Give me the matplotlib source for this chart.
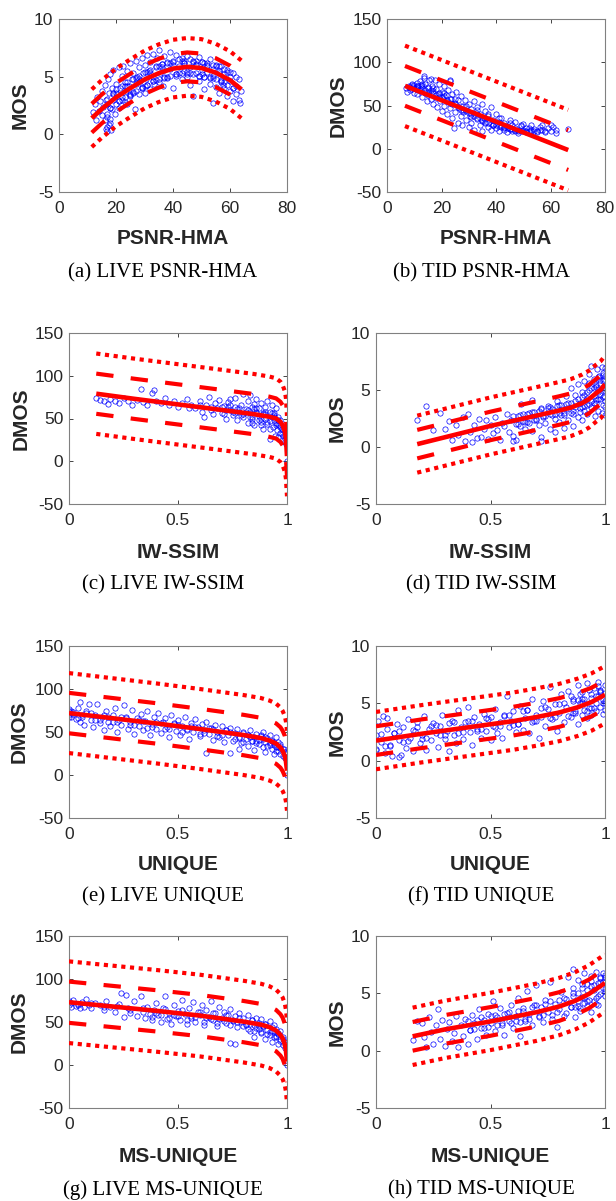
import matplotlib
matplotlib.use("Agg")
import matplotlib.pyplot as plt

plt.rcParams['lines.scale_dashes'] = False

W, H = 616, 1201

# ---------------- data ----------------
# (a) LIVE PSNR-HMA
a_x = [12,12.5,13,13.5,14,14.5,15,15,15.5,16,16,16.5,16.5,17,17,17,17.2,17.5,17.5,18,18,18.5,18.5,19,19,19.5,20,20,20.5,21,21,21.5,22,22,22.5,23,23,23.5,24,24,24.5,25,25,25.5,26,26,26.5,27,27,27.5,28,28,28.5,29,29,29.5,30,30,30.5,31,31,31.5,32,32,33,33,33.5,34,34.5,35,35,35.5,36,36.5,37,37,38,38,39,39,40,40,41,41,42,43,43,44,44,45,45,46,46,47,47,48,48,49,49,50,50,51,51,52,52,53,53,54,54,55,55,56,56,57,57,58,58,59,59,60,60,61,61,62,62,63,63,64,63.5,54,57.5,16.8,17.8,18.2,16.9]
a_y = [1.9,2.6,1.2,3.2,2.0,2.9,1.7,3.8,2.4,4.3,1.2,0.5,3.0,0.3,1.8,2.6,4.8,0.8,3.6,1.3,5.2,2.2,4.0,3.0,5.6,1.8,2.6,4.4,3.5,5.8,2.3,4.0,3.2,5.1,5.9,2.8,4.5,3.8,5.5,2.6,4.2,6.2,3.3,4.8,5.3,3.7,2.2,4.4,6.4,5.0,3.5,5.8,4.6,6.6,4.0,5.3,3.6,6.0,4.8,6.9,4.3,5.5,3.9,6.3,5.0,7.0,4.4,5.8,6.6,4.5,7.3,5.3,6.1,4.2,6.8,5.6,4.9,6.3,7.1,5.7,4.0,6.4,5.2,6.9,5.9,6.6,4.8,5.5,6.2,5.0,6.8,5.8,4.3,6.4,3.3,5.3,6.0,6.7,4.6,5.6,6.3,5.0,3.9,6.0,5.4,4.4,6.5,5.7,5.1,4.1,6.0,5.3,3.6,4.7,5.9,4.0,5.2,3.3,5.6,4.6,3.8,5.3,2.9,4.2,3.5,4.8,3.0,3.8,2.7,2.7,4.3,0.6,1.0,0.4,1.5]
a_x_core = [17,18,19,20,21,22,23,24,25,26,27,28,29,30,31,32,33,34,35,36,37,38,39,40,41,42,43,44,45,46,47,48,49,50,51,52,53,54,55,56,57,58,59,60,61,62,
            18,20,22,24,26,28,30,32,34,36,38,40,42,44,46,48,50,52,54,56,58,60,
            19,21,23,25,27,29,31,33,35,37,39,41,43,45,47,49,51,53,55,57,59,61]
a_y_core = [3.1,2.3,3.6,3.9,2.9,4.2,3.2,4.5,3.4,4.8,3.8,5.1,4.0,5.4,4.3,5.6,4.6,5.9,4.8,6.1,5.0,6.2,5.1,6.3,5.2,6.5,5.3,6.4,5.4,6.5,5.2,6.4,5.1,6.3,5.0,6.2,5.0,6.0,4.8,5.9,4.6,5.7,4.3,5.4,4.0,5.0,
            2.3,3.6,3.0,4.2,3.6,4.8,4.2,5.3,4.7,5.8,5.0,6.0,5.3,6.2,5.3,6.1,5.2,5.9,4.9,5.5,4.5,5.0,
            3.5,2.9,4.2,3.5,4.9,4.1,5.4,4.6,5.9,4.9,6.2,5.1,6.4,5.2,6.3,5.1,6.2,4.9,5.9,4.5,5.4,4.0]
a_fit_x = [11.5,15,20,25,30,35,40,45,50,55,60,64]
a_fit_y = [1.4,2.2,3.2,4.0,4.75,5.3,5.7,5.85,5.75,5.35,4.7,3.9]
a_dash = 1.25
a_dot = 2.5

# (b) TID PSNR-HMA
b_x = [7,7.5,8,8.5,9,9.5,10,10,10.5,11,11,11.5,12,12,12.5,13,13,13.5,14,14,14.5,15,15,15.5,16,16,16.5,17,17,17.5,18,18,18.5,19,19,19.5,20,20,20.5,21,21,21.5,22,22,22.5,23,23,23.5,24,24,24.5,25,25,25.5,26,26,26.5,27,27,27.5,28,28,28.5,29,29,30,30,30.5,31,31,32,32,32.5,33,33,34,34,35,35,35.5,36,36,37,37,38,38,39,39,40,40,41,41,42,42,43,43,44,44,45,45,46,46,47,47,48,48,49,50,50,51,52,53,53,54,55,56,57,57,58,59,60,60,61,62,62,66.5,13.5,16,23]
b_y = [70,66,73,68,75,71,65,74,69,76,63,72,67,78,74,60,70,82,65,75,55,71,62,79,58,68,73,52,64,80,59,69,48,63,75,55,44,66,58,72,50,62,40,55,68,47,78,58,35,63,24,52,42,66,30,56,47,38,61,27,50,43,56,33,45,25,52,38,46,30,55,22,41,34,48,27,40,52,21,35,30,44,25,38,48,22,33,28,40,24,20,31,27,35,22,30,19,26,33,23,20,28,24,31,21,18,26,22,29,19,24,21,27,23,20,25,22,27,19,24,28,21,25,18,22,23,84,81,80]
b_x_core = [8,9,10,11,12,13,14,15,16,17,18,19,20,21,22,23,24,25,26,27,28,29,30,31,32,33,34,35,36,37,38,39,40,41,42,43,44,45,46,47,48,49,50,51,52,54,56,58,
            9,11,13,15,17,19,21,23,25,27,29,31,33,35,37,39,41,43,45,47,49,51,53,55]
b_y_core = [71,74,70,73,69,72,68,70,65,67,62,64,60,61,56,58,52,53,48,49,45,44,41,40,38,36,35,33,31,30,29,28,27,26,25,25,24,23,23,22,22,21,21,21,20,21,22,21,
            69,71,75,66,70,60,65,53,57,45,50,37,45,32,40,27,35,24,30,21,27,24,22,19]
b_fit_x = [6.6,66.5]
b_fit_y = [72.7,-1.5]
b_dash = 23
b_dot = 46.5

# (c) LIVE IW-SSIM
c_x = [0.125,0.14,0.16,0.18,0.19,0.21,0.23,0.25,0.27,0.29,0.31,0.33,0.34,0.36,0.38,0.39,0.40,0.42,0.44,0.46,0.48,0.50,0.52,0.54,0.56,0.58,0.60,0.61,0.62,0.63,0.64,0.65,0.66,0.67,0.68,0.69,0.70,0.71,0.72,0.73,0.74,0.75,0.76,0.76,0.77,0.78,0.79,0.80,0.80,0.81,0.82,0.82,0.83,0.84,0.84,0.85,0.85,0.86,0.86,0.87,0.87,0.88,0.88,0.89,0.89,0.90,0.90,0.91,0.91,0.92,0.92,0.93,0.93,0.935,0.94,0.94,0.945,0.95,0.95,0.955,0.96,0.96,0.965,0.97,0.97,0.975,0.98,0.98,0.985,0.99,0.99,0.995,0.995,1.0,1.0,0.83,0.74]
c_y = [74,72,70,67,73,71,68,74,70,66,72,85,69,66,80,83,71,68,74,66,70,64,68,73,66,62,70,58,52,66,75,60,55,68,62,72,57,65,50,69,60,54,74,63,48,58,66,52,79,61,45,70,56,64,50,67,42,58,73,53,62,46,68,56,38,63,50,70,44,58,26,52,66,40,57,48,30,62,45,36,52,28,42,48,33,38,30,44,25,35,22,28,20,24,0,78,73]
c_x_core = [0.70,0.72,0.74,0.76,0.78,0.80,0.82,0.84,0.86,0.88,0.90,0.92,0.94,0.96,0.98,
            0.71,0.73,0.75,0.77,0.79,0.81,0.83,0.85,0.87,0.89,0.91,0.93,0.95,0.97,0.99,
            0.84,0.86,0.88,0.90,0.92,0.94,0.96,0.975,0.985,0.55,0.60,0.65]
c_y_core = [63,60,66,57,62,55,60,52,57,50,55,47,52,44,36,
            55,64,58,61,54,58,52,61,48,55,46,56,42,40,30,
            45,62,42,58,38,54,48,32,40,62,66,64]
c_fit_x = [0.125,0.3,0.5,0.7,0.85,0.92,0.95,0.97,0.98,0.99,0.995,1.0]
c_fit_y = [79,73,66.5,60,55,52,50,46,42,35,27,6]
c_dash = 23.5
c_dot = 47

# (d) TID IW-SSIM
d_x = [0.18,0.22,0.25,0.28,0.30,0.32,0.33,0.35,0.36,0.38,0.39,0.40,0.41,0.42,0.43,0.44,0.45,0.46,0.47,0.48,0.49,0.50,0.51,0.52,0.53,0.54,0.55,0.56,0.57,0.58,0.59,0.60,0.61,0.62,0.63,0.635,0.64,0.65,0.66,0.67,0.68,0.68,0.69,0.70,0.71,0.72,0.72,0.73,0.74,0.75,0.76,0.76,0.77,0.78,0.78,0.79,0.80,0.80,0.81,0.82,0.82,0.83,0.83,0.84,0.85,0.85,0.86,0.86,0.87,0.87,0.88,0.88,0.89,0.89,0.90,0.90,0.91,0.91,0.92,0.92,0.93,0.93,0.94,0.94,0.95,0.95,0.955,0.96,0.96,0.965,0.97,0.97,0.975,0.98,0.98,0.985,0.985,0.99,0.99,0.99,0.995,0.995,1.0,1.0,1.0,1.0,0.72,0.60]
d_y = [2.4,3.6,1.5,3.0,1.6,2.3,0.6,1.9,1.05,2.6,0.5,2.9,1.3,0.4,1.9,0.8,2.5,0.9,1.6,2.4,0.7,1.9,1.2,2.6,1.5,0.6,2.1,1.8,2.9,1.3,2.4,1.0,0.6,2.7,1.8,3.8,2.3,1.6,2.9,2.1,4.1,1.4,3.1,2.4,1.9,0.9,3.4,2.7,2.1,3.6,1.6,2.9,3.3,1.35,2.5,4.0,3.0,2.2,3.7,1.7,2.8,4.5,3.3,2.4,3.9,5.2,2.9,1.8,3.5,4.6,2.6,5.5,3.9,3.1,4.8,2.4,5.8,3.6,4.3,2.9,6.4,5.0,3.5,7.1,4.5,6.0,2.7,5.3,3.9,6.8,4.8,3.2,6.2,5.6,4.2,7.0,3.0,6.5,5.1,3.7,6.0,4.5,6.9,5.4,4.0,2.8,0.5,0.5]
d_x_core = [0.60,0.62,0.64,0.66,0.68,0.70,0.72,0.74,0.76,0.78,0.80,0.82,0.84,0.86,0.88,0.90,0.92,0.94,0.96,0.98,1.0,
            0.61,0.63,0.65,0.67,0.69,0.71,0.73,0.75,0.77,0.79,0.81,0.83,0.85,0.87,0.89,0.91,0.93,0.95,0.97,0.99,
            0.90,0.92,0.94,0.96,0.98,1.0,0.91,0.93,0.95,0.97,0.99,1.0,0.95,0.97,0.99]
d_y_core = [2.7,2.0,2.9,2.2,3.1,2.5,3.3,2.7,3.5,2.9,3.7,3.0,3.9,3.2,4.2,3.5,4.8,4.0,5.4,4.6,6.2,
            2.0,2.8,2.2,3.0,2.4,3.2,2.6,3.4,2.8,3.6,2.8,3.8,3.0,4.0,3.4,4.6,3.8,5.2,4.2,5.8,
            4.4,3.7,5.2,4.1,5.9,4.9,3.2,5.6,3.9,6.1,4.4,3.5,5.7,5.1,6.3]
d_fit_x = [0.18,0.3,0.4,0.5,0.6,0.7,0.8,0.85,0.9,0.93,0.96,0.98,1.0]
d_fit_y = [0.25,0.85,1.35,1.85,2.3,2.75,3.2,3.45,3.85,4.2,4.7,5.0,5.5]
d_dash = 1.25
d_dot = 2.5

# (e) LIVE UNIQUE
e_x = [0.0,0.0,0.0,0.0,0.005,0.01,0.01,0.02,0.03,0.04,0.05,0.05,0.06,0.07,0.08,0.09,0.10,0.11,0.12,0.13,0.14,0.15,0.16,0.17,0.18,0.19,0.20,0.21,0.22,0.23,0.24,0.25,0.26,0.27,0.28,0.29,0.30,0.31,0.32,0.33,0.34,0.35,0.36,0.37,0.38,0.39,0.40,0.41,0.42,0.43,0.44,0.45,0.46,0.47,0.48,0.49,0.50,0.51,0.52,0.53,0.54,0.55,0.56,0.57,0.58,0.59,0.60,0.61,0.62,0.63,0.63,0.64,0.65,0.66,0.67,0.68,0.69,0.70,0.71,0.72,0.73,0.74,0.74,0.75,0.76,0.77,0.78,0.78,0.79,0.80,0.81,0.82,0.82,0.83,0.84,0.85,0.85,0.86,0.87,0.87,0.88,0.89,0.89,0.90,0.90,0.91,0.92,0.92,0.93,0.93,0.94,0.94,0.95,0.95,0.96,0.96,0.97,0.97,0.98,0.98,0.99,0.99,1.0,1.0]
e_y = [70,74,77,67,72,68,75,71,65,78,85,62,70,58,74,82,64,56,70,83,60,67,52,75,62,57,70,78,50,64,58,81,68,53,62,76,48,66,57,71,52,63,75,46,59,68,54,72,49,62,66,56,44,70,60,51,64,47,57,68,53,42,61,50,65,56,45,59,52,26,62,48,55,41,58,50,44,57,38,52,46,26,55,40,49,53,30,44,37,50,42,34,47,52,39,44,29,48,36,41,45,32,50,38,27,43,35,46,30,40,24,37,33,44,28,38,25,34,30,22,27,20,24,0]
e_x_core = [0.02,0.06,0.10,0.14,0.18,0.22,0.26,0.30,0.34,0.38,0.42,0.46,0.50,0.54,0.58,0.62,0.66,0.70,0.74,0.78,0.82,0.86,0.90,0.94,0.97,
            0.04,0.08,0.12,0.16,0.20,0.24,0.28,0.32,0.36,0.40,0.44,0.48,0.52,0.56,0.60,0.64,0.68,0.72,0.76,0.80,0.84,0.88,0.92,0.96,0.99,
            0.80,0.83,0.86,0.89,0.91,0.93,0.95,0.97,0.985]
e_y_core = [73,68,72,64,68,62,66,58,63,56,61,54,58,52,56,49,54,46,50,43,47,40,44,35,31,
            66,72,64,70,62,67,58,64,55,62,53,59,50,57,48,55,45,52,42,49,40,46,37,33,27,
            38,44,37,42,34,39,28,36,30]
e_fit_x = [0,0.2,0.4,0.6,0.8,0.88,0.92,0.95,0.97,0.98,0.99,0.995,1.0]
e_fit_y = [72,66,60,53.5,46.5,43,40,36.5,32,28,22,16,5]
e_dash = 23.5
e_dot = 46.5

# (f) TID UNIQUE
f_x = [0.0,0.0,0.01,0.02,0.03,0.04,0.05,0.06,0.07,0.08,0.09,0.10,0.11,0.12,0.13,0.14,0.15,0.16,0.17,0.18,0.19,0.20,0.21,0.22,0.23,0.24,0.25,0.26,0.27,0.28,0.29,0.30,0.31,0.32,0.33,0.34,0.35,0.36,0.37,0.38,0.39,0.40,0.41,0.42,0.43,0.44,0.45,0.46,0.47,0.48,0.49,0.50,0.51,0.52,0.53,0.54,0.55,0.56,0.57,0.58,0.59,0.60,0.61,0.62,0.63,0.64,0.65,0.66,0.67,0.68,0.69,0.70,0.71,0.72,0.73,0.74,0.75,0.76,0.77,0.78,0.79,0.80,0.81,0.82,0.83,0.84,0.85,0.86,0.87,0.88,0.88,0.89,0.90,0.90,0.91,0.92,0.92,0.93,0.94,0.94,0.95,0.96,0.96,0.97,0.97,0.98,0.98,0.99,0.99,1.0,1.0,1.0,1.0,0.05,0.10,0.0]
f_y = [2.2,1.0,3.5,1.6,3.9,0.7,2.8,1.3,0.4,2.4,3.2,1.8,0.5,2.9,1.1,3.6,2.0,0.8,2.6,3.4,1.5,2.2,3.9,0.9,2.8,1.8,3.3,2.4,1.2,3.0,4.0,1.9,2.6,0.8,3.5,2.2,1.5,4.4,2.9,1.9,3.4,4.7,2.5,1.4,3.8,2.8,3.2,2.0,4.1,2.6,3.6,1.8,3.0,4.5,2.4,3.4,2.0,3.9,5.6,2.9,3.5,4.3,2.5,3.2,4.8,2.7,3.7,4.4,2.4,5.4,3.5,4.0,2.0,3.8,5.2,3.0,4.5,6.4,3.6,4.9,2.6,4.2,5.8,3.4,4.7,6.1,3.8,5.2,4.3,6.6,3.2,5.0,4.0,6.0,5.4,3.7,6.8,4.6,5.8,4.0,6.3,5.0,4.3,6.9,5.6,4.7,6.2,5.3,4.1,6.6,5.0,5.9,4.4,3.7,0.3,0.9]
f_x_core = [0.02,0.06,0.10,0.14,0.18,0.22,0.26,0.30,0.34,0.38,0.42,0.46,0.50,0.54,0.58,0.62,0.66,0.70,0.74,0.78,0.82,0.86,0.90,0.94,0.98,
            0.04,0.08,0.12,0.16,0.20,0.24,0.28,0.32,0.36,0.40,0.44,0.48,0.52,0.56,0.60,0.64,0.68,0.72,0.76,0.80,0.84,0.88,0.92,0.96,1.0,
            0.85,0.87,0.89,0.91,0.93,0.95,0.97,0.99,0.86,0.90,0.94,0.98]
f_y_core = [2.3,1.4,2.6,1.7,2.9,2.0,3.1,2.2,3.4,2.5,3.5,2.8,3.8,3.0,4.0,3.2,4.4,3.5,4.7,3.8,5.0,4.2,5.4,4.6,6.1,
            1.3,2.4,1.6,2.7,1.9,3.0,2.2,3.3,2.4,3.5,2.6,3.7,2.9,4.0,3.1,4.3,3.4,4.6,3.7,4.9,3.9,5.3,4.3,5.6,5.2,
            5.6,4.2,5.8,4.4,6.2,4.6,6.5,5.0,5.4,5.1,5.5,6.0]
f_fit_x = [0,0.2,0.4,0.6,0.7,0.8,0.88,0.94,1.0]
f_fit_y = [1.75,2.35,2.9,3.45,3.8,4.2,4.65,5.1,5.75]
f_dash = 1.25
f_dot = 2.5

# (g) LIVE MS-UNIQUE
g_x = [0.0,0.0,0.01,0.01,0.02,0.03,0.04,0.05,0.06,0.07,0.08,0.09,0.10,0.12,0.14,0.16,0.17,0.19,0.21,0.23,0.24,0.25,0.26,0.27,0.28,0.30,0.31,0.33,0.34,0.35,0.36,0.37,0.38,0.39,0.40,0.41,0.42,0.43,0.44,0.45,0.46,0.47,0.48,0.49,0.50,0.51,0.52,0.53,0.54,0.55,0.56,0.57,0.58,0.59,0.60,0.61,0.62,0.63,0.64,0.65,0.66,0.67,0.68,0.69,0.70,0.71,0.72,0.73,0.74,0.74,0.75,0.76,0.76,0.77,0.78,0.79,0.80,0.81,0.82,0.83,0.84,0.85,0.85,0.86,0.87,0.87,0.88,0.88,0.89,0.90,0.90,0.91,0.92,0.92,0.93,0.93,0.94,0.94,0.95,0.95,0.96,0.96,0.97,0.97,0.98,0.98,0.99,0.99,1.0,1.0]
g_y = [70,74,67,72,76,69,71,66,73,68,77,70,66,72,70,64,75,68,62,71,84,56,81,66,60,74,57,80,62,55,68,59,52,64,72,58,50,66,80,54,61,48,70,57,63,52,76,59,48,66,55,73,50,62,58,70,47,64,56,74,52,60,45,67,55,62,49,58,26,65,52,24,57,44,60,50,55,46,58,40,52,47,33,55,42,49,37,53,45,30,48,41,51,35,44,27,39,47,32,42,25,37,30,40,23,33,27,20,24,0]
g_x_core = [0.04,0.10,0.16,0.22,0.28,0.34,0.40,0.44,0.48,0.52,0.56,0.60,0.63,0.66,0.69,0.72,0.75,0.78,0.81,0.84,0.87,0.90,0.93,0.96,0.98,
            0.38,0.42,0.46,0.50,0.54,0.58,0.62,0.65,0.68,0.71,0.74,0.77,0.80,0.83,0.86,0.89,0.92,0.95,0.97,0.99,
            0.82,0.85,0.88,0.91,0.94]
g_y_core = [70,72,67,69,64,66,61,65,58,64,57,62,55,60,53,58,51,55,48,52,45,48,40,36,30,
            56,58,55,57,52,56,50,53,49,51,47,50,45,48,43,45,38,34,28,25,
            42,40,38,36,33]
g_fit_x = [0,0.2,0.4,0.6,0.8,0.88,0.92,0.95,0.97,0.98,0.99,0.995,1.0]
g_fit_y = [73,68,63,57.5,50.5,47,44,40,35,31,24,17,4]
g_dash = 24
g_dot = 47.5

# (h) TID MS-UNIQUE
h_x = [0.16,0.18,0.20,0.21,0.22,0.23,0.24,0.25,0.26,0.27,0.28,0.29,0.30,0.31,0.32,0.33,0.34,0.35,0.36,0.37,0.38,0.39,0.40,0.41,0.42,0.43,0.44,0.45,0.46,0.47,0.48,0.49,0.50,0.51,0.52,0.53,0.54,0.55,0.56,0.57,0.58,0.59,0.60,0.61,0.62,0.63,0.63,0.64,0.65,0.66,0.67,0.68,0.69,0.70,0.71,0.72,0.73,0.74,0.75,0.76,0.77,0.78,0.79,0.80,0.81,0.82,0.83,0.84,0.85,0.86,0.86,0.87,0.88,0.88,0.89,0.90,0.90,0.91,0.92,0.92,0.93,0.94,0.94,0.95,0.96,0.96,0.97,0.97,0.98,0.98,0.99,0.99,1.0,1.0,1.0,1.0]
h_y = [0.9,2.6,2.4,1.2,0.3,2.9,1.6,0.6,2.2,3.6,1.0,2.7,0.4,1.9,2.5,0.8,1.5,3.0,0.3,2.2,1.3,2.8,0.6,1.8,3.1,2.4,1.0,3.6,2.0,2.7,1.4,3.2,2.4,4.3,1.7,2.9,3.7,2.2,1.4,3.3,2.6,4.0,2.0,3.0,4.6,2.5,1.3,3.5,2.8,5.2,3.2,2.2,4.0,5.7,3.0,3.8,2.5,4.4,3.4,6.0,2.8,4.1,2.1,3.6,5.1,3.0,4.5,6.4,3.8,7.1,5.0,2.9,4.3,6.2,3.5,5.5,4.7,6.8,3.9,5.8,4.4,6.5,3.4,5.3,4.6,6.9,5.9,4.0,6.3,4.9,5.5,6.8,6.0,4.8,5.4,6.6]
h_x_core = [0.40,0.43,0.46,0.49,0.52,0.55,0.58,0.61,0.64,0.67,0.70,0.73,0.76,0.79,0.82,0.85,0.88,0.91,0.94,0.97,1.0,
            0.41,0.44,0.47,0.50,0.53,0.56,0.59,0.62,0.65,0.68,0.71,0.74,0.77,0.80,0.83,0.86,0.89,0.92,0.95,0.98,
            0.86,0.88,0.90,0.92,0.94,0.96,0.98,1.0,0.87,0.91,0.95,0.99]
h_y_core = [2.6,1.9,2.9,2.1,3.1,2.4,3.4,2.6,3.7,2.8,4.0,3.1,4.3,3.4,4.6,3.8,5.0,4.2,5.6,4.8,6.4,
            1.8,2.7,2.0,3.0,2.2,3.2,2.4,3.5,2.6,3.8,2.9,4.1,3.1,4.4,3.3,4.8,3.7,5.3,4.3,6.0,
            5.5,3.9,5.8,4.3,6.1,4.1,6.4,5.2,3.8,4.6,5.7,6.0]
h_fit_x = [0.16,0.3,0.4,0.5,0.6,0.7,0.8,0.87,0.93,1.0]
h_fit_y = [1.25,1.85,2.2,2.55,2.95,3.35,3.85,4.35,4.95,5.9]
h_dash = 1.25
h_dot = 2.5

ticks_psnr = [0, 20, 40, 60, 80]
ticks_psnr_lbl = ['0', '20', '40', '60', '80']
ticks_unit = [0, 0.5, 1]
ticks_unit_lbl = ['0', '0.5', '1']
ticks_mos = [-5, 0, 5, 10]
ticks_mos_lbl = ['-5', '0', '5', '10']
ticks_dmos = [-50, 0, 50, 100, 150]
ticks_dmos_lbl = ['-50', '0', '50', '100', '150']

captions = ['(a) LIVE PSNR-HMA', '(b) TID PSNR-HMA', '(c) LIVE IW-SSIM', '(d) TID IW-SSIM',
            '(e) LIVE UNIQUE', '(f) TID UNIQUE', '(g) LIVE MS-UNIQUE', '(h) TID MS-UNIQUE']
xlabels = ['PSNR-HMA', 'PSNR-HMA', 'IW-SSIM', 'IW-SSIM', 'UNIQUE', 'UNIQUE', 'MS-UNIQUE', 'MS-UNIQUE']
ylabels = ['MOS', 'DMOS', 'DMOS', 'MOS', 'DMOS', 'MOS', 'DMOS', 'MOS']

# ---------------- layout (pixels) ----------------
boxes = [(59, 287, 19, 192), (387, 605, 19, 192),
         (69, 287, 333, 504), (376, 605, 333, 504),
         (69, 287, 646, 818), (376, 605, 646, 818),
         (69, 287, 936, 1108), (376, 605, 936, 1108)]
ylabel_x = [20, 338, 21, 337, 19, 337, 19, 337]
xlabel_y = [238, 238, 552, 552, 865, 865, 1156, 1156]
caption_y = [273, 273, 585, 585, 897, 897, 1190, 1190]
caption_x = [163, 481]

panels = [
    (a_x, a_y, a_x_core, a_y_core, a_fit_x, a_fit_y, a_dash, a_dot, (0, 80), ticks_psnr, ticks_psnr_lbl, (-5, 10), ticks_mos, ticks_mos_lbl),
    (b_x, b_y, b_x_core, b_y_core, b_fit_x, b_fit_y, b_dash, b_dot, (0, 80), ticks_psnr, ticks_psnr_lbl, (-50, 150), ticks_dmos, ticks_dmos_lbl),
    (c_x, c_y, c_x_core, c_y_core, c_fit_x, c_fit_y, c_dash, c_dot, (0, 1), ticks_unit, ticks_unit_lbl, (-50, 150), ticks_dmos, ticks_dmos_lbl),
    (d_x, d_y, d_x_core, d_y_core, d_fit_x, d_fit_y, d_dash, d_dot, (0, 1), ticks_unit, ticks_unit_lbl, (-5, 10), ticks_mos, ticks_mos_lbl),
    (e_x, e_y, e_x_core, e_y_core, e_fit_x, e_fit_y, e_dash, e_dot, (0, 1), ticks_unit, ticks_unit_lbl, (-50, 150), ticks_dmos, ticks_dmos_lbl),
    (f_x, f_y, f_x_core, f_y_core, f_fit_x, f_fit_y, f_dash, f_dot, (0, 1), ticks_unit, ticks_unit_lbl, (-5, 10), ticks_mos, ticks_mos_lbl),
    (g_x, g_y, g_x_core, g_y_core, g_fit_x, g_fit_y, g_dash, g_dot, (0, 1), ticks_unit, ticks_unit_lbl, (-50, 150), ticks_dmos, ticks_dmos_lbl),
    (h_x, h_y, h_x_core, h_y_core, h_fit_x, h_fit_y, h_dash, h_dot, (0, 1), ticks_unit, ticks_unit_lbl, (-5, 10), ticks_mos, ticks_mos_lbl),
]

fig = plt.figure(figsize=(W / 100, H / 100), dpi=100)
sans = 'Liberation Sans'
serif = 'Liberation Serif'
tc = '#262626'
red = (1, 0, 0)

for i, (px, py, cxs, cys, fx, fy, dash, dot, xl, xt, xtl, yl, yt, ytl) in enumerate(panels):
    l, r, t, b = boxes[i]
    ax = fig.add_axes([l / W, 1 - b / H, (r - l) / W, (b - t) / H])
    ax.plot(px + cxs, py + cys, 'o', mfc='none', mec=(0, 0, 1), ms=3.8, mew=0.5, zorder=2)
    up_dash = [v + dash for v in fy]
    lo_dash = [v - dash for v in fy]
    up_dot = [v + dot for v in fy]
    lo_dot = [v - dot for v in fy]
    for yy in (up_dot, lo_dot):
        ax.plot(fx, yy, color=red, lw=3.0, dash_capstyle='butt',
                linestyle=(0, (3.0, 3.3)), zorder=3)
    for yy in (up_dash, lo_dash):
        ax.plot(fx, yy, color=red, lw=3.0, dash_capstyle='butt',
                linestyle=(0, (12.5, 12.5)), zorder=3)
    ax.plot(fx, fy, color=red, lw=3.3, solid_capstyle='butt', solid_joinstyle='round', zorder=4)

    ax.set_xlim(*xl)
    ax.set_ylim(*yl)
    ax.set_xticks(xt)
    ax.set_xticklabels(xtl)
    ax.set_yticks(yt)
    ax.set_yticklabels(ytl)
    ax.tick_params(axis='both', direction='in', length=3, width=0.6, colors=tc,
                   top=True, right=True, labelsize=12.5)
    ax.tick_params(axis='x', pad=6.5)
    ax.tick_params(axis='y', pad=4)
    for lab in ax.get_xticklabels() + ax.get_yticklabels():
        lab.set_fontfamily(sans)
    for s in ax.spines.values():
        s.set_color('#808080')
        s.set_linewidth(0.8)

    cx = (l + r) / 2
    fig.text(cx / W, 1 - xlabel_y[i] / H, xlabels[i], ha='center', va='center',
             fontsize=15, fontweight='bold', family=sans, color=tc)
    fig.text(ylabel_x[i] / W, 1 - ((t + b) / 2) / H, ylabels[i], ha='center', va='center',
             rotation=90, fontsize=15, fontweight='bold', family=sans, color=tc)
    fig.text(caption_x[i % 2] / W, 1 - caption_y[i] / H, captions[i], ha='center', va='center',
             fontsize=15, family=serif, color='black')

fig.savefig('out.png', dpi=100)
